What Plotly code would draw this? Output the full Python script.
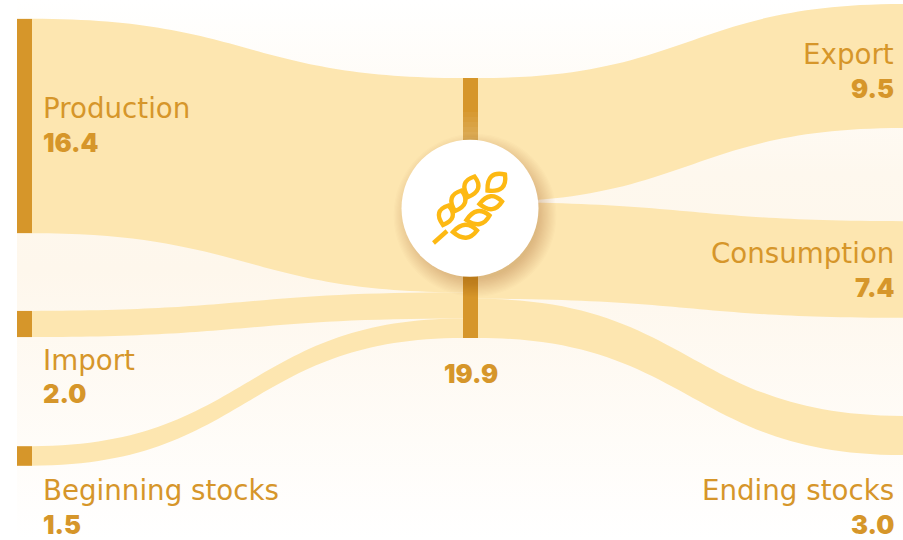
import math
import plotly.graph_objects as go

# --- data -------------------------------------------------------------
sources_names = ["Production", "Import", "Beginning stocks"]
sources_values = [16.4, 2.0, 1.5]
uses_names = ["Export", "Consumption", "Ending stocks"]
uses_values = [9.5, 7.4, 3.0]
total_value = 19.9

# --- layout / style ---------------------------------------------------
W, H = 903, 540
GOLD = "#D6962A"
LINK = "#FDE6B0"
ICON = "#FDB913"
NAME_FONT = "'DejaVu Sans', sans-serif"
VALUE_FONT = "Inter, 'Open Sans', sans-serif"

node_x_px = [24.5, 24.5, 24.5, 470.5, 910.5, 910.5, 910.5]
node_y_px = [126, 324, 456, 208, 66, 269.5, 435.5]
# the pad only sets the value-to-pixel scale: (540 - 2 * 140) px for the 19.9 total
node_pad = 140

labels = sources_names + ["Total"] + uses_names
mid = len(sources_names)
link_source = [0, 1, 2, mid, mid, mid]
link_target = [mid, mid, mid, mid + 1, mid + 2, mid + 3]
link_value = sources_values + uses_values

fig = go.Figure()

# soft vertical background wash
fig.add_trace(go.Scatter(
    x=[17, W, W, 17, 17], y=[0, 0, H, H, 0], mode="none", fill="toself",
    fillgradient=dict(type="vertical", colorscale=[
        [0, "#FFFFFF"], [0.5, "#FEF7EC"], [0.68, "#FEF8EE"], [1, "#FFFFFF"]]),
    hoverinfo="skip", showlegend=False,
))

fig.add_trace(go.Sankey(
    arrangement="fixed",
    domain=dict(x=[0, 1], y=[0, 1]),
    hoverinfo="skip",
    node=dict(
        label=[""] * len(labels),
        customdata=labels,
        x=[v / W for v in node_x_px],
        y=[v / H for v in node_y_px],
        thickness=15,
        pad=node_pad,
        color=GOLD,
        line=dict(width=0),
        hoverinfo="skip",
    ),
    link=dict(source=link_source, target=link_target, value=link_value,
              color=LINK, hoverinfo="skip"),
))

shapes = []

# fade at top of the centre bar just above the badge
for i in range(6):
    shapes.append(dict(type="rect", xref="x", yref="y", layer="above",
                       x0=463, x1=478, y0=112 + i * 5, y1=142,
                       fillcolor="rgba(255,255,255,0.045)", line=dict(width=0)))

# badge shadow
cx, cy, r = 470, 208.3, 68.5
for i in range(16):
    rr = r + 13 - i * 1.2
    shapes.append(dict(type="circle", xref="x", yref="y", layer="above",
                       x0=cx + 5 - rr, x1=cx + 5 + rr, y0=cy + 7 - rr, y1=cy + 7 + rr,
                       fillcolor="rgba(120,85,30,0.014)", line=dict(width=0)))
shapes.append(dict(type="circle", xref="x", yref="y", layer="above",
                   x0=cx - r, x1=cx + r, y0=cy - r, y1=cy + r,
                   fillcolor="#FFFFFF", line=dict(width=0)))


def leaf(x0, y0, x1, y1, w):
    """Closed almond-shaped outline between two pixel points."""
    dx, dy = x1 - x0, y1 - y0
    n = math.hypot(dx, dy)
    nx, ny = -dy / n * w, dx / n * w
    a = (x0 + dx * 0.55 + nx, y0 + dy * 0.55 + ny)
    b = (x0 + dx * 0.55 - nx, y0 + dy * 0.55 - ny)
    return f"M{x0},{y0} Q{a[0]},{a[1]} {x1},{y1} Q{b[0]},{b[1]} {x0},{y0} Z"


icon_leaves = [
    (487.5, 190.5, 505, 174.5, 15.5),
    (468, 197, 474.5, 176.5, 14),
    (455, 211, 461.5, 190.5, 14),
    (443, 225, 448.5, 205.5, 14),
    (479.5, 204, 502, 201.5, 13),
    (466.5, 220, 489.5, 215.5, 13),
    (453, 232, 477, 230.5, 13),
]
for lf in icon_leaves:
    shapes.append(dict(type="path", xref="x", yref="y", layer="above", path=leaf(*lf),
                       fillcolor="rgba(0,0,0,0)", line=dict(color=ICON, width=4.4)))
shapes.append(dict(type="line", xref="x", yref="y", layer="above",
                   x0=433.5, y0=243, x1=447, y1=231, line=dict(color=ICON, width=4.4)))

# --- text -------------------------------------------------------------
anns = []


def txt(x, y, s, anchor, family, size, weight):
    anns.append(dict(x=x, y=y, xref="x", yref="y", text=s, showarrow=False,
                     xanchor=anchor, yanchor="middle",
                     font=dict(family=family, size=size, color=GOLD, weight=weight)))


NAME_SIZE, VALUE_SIZE = 27.7, 25.5
for name, val, yn, yv in zip(sources_names, sources_values, [108, 360, 490], [142, 393, 524]):
    txt(41, yn, name, "left", NAME_FONT, NAME_SIZE, 400)
    txt(41, yv, f"{val:.1f}", "left", VALUE_FONT, VALUE_SIZE, 900)
for name, val, yn, yv in zip(uses_names, uses_values, [54, 253, 490], [88, 287, 524]):
    txt(896, yn, name, "right", NAME_FONT, NAME_SIZE, 400)
    txt(896, yv, f"{val:.1f}", "right", VALUE_FONT, VALUE_SIZE, 900)
txt(471, 373, f"{total_value:.1f}", "center", VALUE_FONT, VALUE_SIZE, 900)

fig.update_layout(
    width=W, height=H, autosize=False,
    margin=dict(l=0, r=0, t=0, b=0, pad=0),
    paper_bgcolor="#FFFFFF", plot_bgcolor="rgba(0,0,0,0)",
    showlegend=False,
    xaxis=dict(range=[0, W], visible=False, fixedrange=True),
    yaxis=dict(range=[H, 0], visible=False, fixedrange=True),
    shapes=shapes, annotations=anns,
)

fig.write_html("out.html", config={"displayModeBar": False, "staticPlot": True},
               post_script="document.body.style.margin='0';")
